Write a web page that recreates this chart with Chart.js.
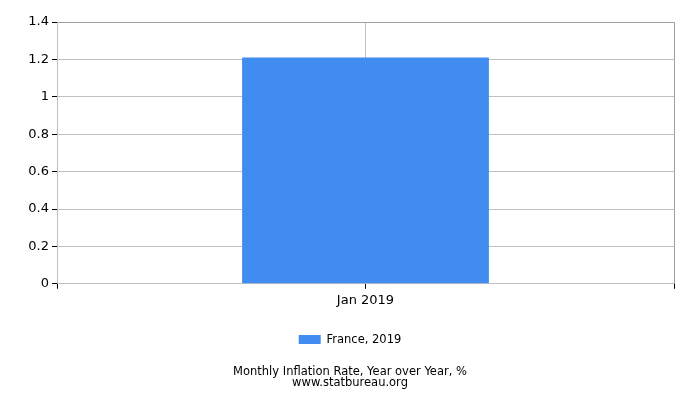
<!DOCTYPE html>
<html>
<head>
<meta charset="utf-8">
<script src="https://cdn.jsdelivr.net/npm/chart.js@4/dist/chart.umd.min.js"></script>
<style>
html,body{margin:0;padding:0;background:#fff;}
#wrap{width:700px;height:400px;}
</style>
</head>
<body>
<div id="wrap"><canvas id="c" width="700" height="400"></canvas></div>
<script>
const categories = ['Jan 2019'];
const seriesLabel = 'France, 2019';
const values = [1.21];
const titleLines = ['Monthly Inflation Rate, Year over Year, %', 'www.statbureau.org'];

const FONT = "'DejaVu Sans', sans-serif";

const framePlugin = {
  id: 'frame',
  afterDraw(chart) {
    const ctx = chart.ctx, a = chart.chartArea;
    ctx.save();
    ctx.strokeStyle = '#a0a0a0';
    ctx.lineWidth = 1;
    ctx.beginPath();
    ctx.moveTo(a.left, a.top + 0.5);
    ctx.lineTo(Math.round(a.right) + 0.5, a.top + 0.5);
    ctx.lineTo(Math.round(a.right) + 0.5, a.bottom);
    ctx.stroke();
    ctx.strokeStyle = '#000';
    ctx.beginPath();
    ctx.moveTo(Math.round(a.left) + 0.5, a.bottom);
    ctx.lineTo(Math.round(a.left) + 0.5, a.bottom + 5);
    ctx.moveTo(Math.round(a.right) + 0.5, a.bottom);
    ctx.lineTo(Math.round(a.right) + 0.5, a.bottom + 5);
    ctx.stroke();
    ctx.restore();
  }
};

new Chart(document.getElementById('c'), {
  type: 'bar',
  data: {
    labels: categories,
    datasets: [{
      label: seriesLabel,
      data: values,
      backgroundColor: '#418cf0',
      borderWidth: 0,
      categoryPercentage: 1,
      barPercentage: 0.4
    }]
  },
  options: {
    responsive: false,
    animation: false,
    devicePixelRatio: 1,
    layout: { padding: { top: 22, right: 0, left: 0, bottom: 12 } },
    scales: {
      x: {
        offset: true,
        grid: { offset: false, color: '#c0c0c0', tickColor: '#000', tickLength: 5, drawTicks: true },
        border: { color: '#c0c0c0' },
        ticks: { color: '#000', font: { family: FONT, size: 13 }, padding: 4 },
        afterFit(s) { s.height = 40; }
      },
      y: {
        min: 0, max: 1.4,
        grid: { color: '#c0c0c0', tickColor: '#000', tickLength: 5 },
        border: { color: '#c0c0c0' },
        ticks: { stepSize: 0.2, color: '#000', font: { family: FONT, size: 13 }, padding: 3,
                 callback: v => String(Math.round(v * 10) / 10) },
        afterFit(s) { s.width = 57; }
      },
      yRight: {
        type: 'linear',
        position: 'right',
        display: true,
        min: 0, max: 1.4,
        grid: { display: false, drawTicks: false },
        border: { display: false },
        ticks: { display: false },
        afterFit(s) { s.width = 26; }
      }
    },
    plugins: {
      legend: {
        position: 'bottom',
        labels: { boxWidth: 22, boxHeight: 9, color: '#000', font: { family: FONT, size: 11.5 }, padding: 10 }
      },
      title: {
        display: true,
        position: 'bottom',
        text: titleLines,
        color: '#000',
        font: { family: FONT, size: 11.5, weight: 'normal', lineHeight: 0.9 },
        padding: { top: 12, bottom: 0 }
      },
      tooltip: { enabled: false }
    }
  },
  plugins: [framePlugin]
});
</script>
</body>
</html>
